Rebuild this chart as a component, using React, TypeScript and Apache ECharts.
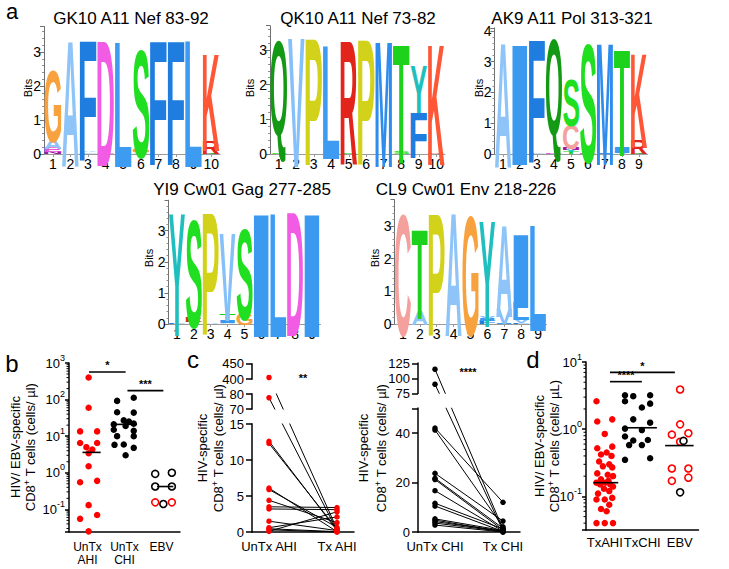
import React, { useEffect, useRef } from "react";
import * as echarts from "echarts";

const FONT = '"Liberation Sans", Arial, Helvetica, sans-serif';
const LOGO_FONT = 'bold 100px "Liberation Sans", Arial, sans-serif';
const RED = "#ff0000";
const BLACK = "#000000";

const LETTER_COLORS: Record<string, string> = {
  A: "#8ec4f8", C: "#f4a19e", D: "#f25ce4", E: "#e257d8", F: "#1f7de0", G: "#f7a23e",
  I: "#3b9af0", K: "#ff5636", L: "#3d9cf2", M: "#2d8cee", N: "#a0169f", P: "#d3d21a",
  Q: "#139913", R: "#e2241a", S: "#20df20", T: "#1dd21d", V: "#85c0fa", Y: "#1fbfbf",
};

type Stack = [string, number][];

// ---------- sequence logo data (bits, stacked bottom -> top) ----------
const logo1Title = "GK10 A11 Nef 83-92";
const logo1Stacks: Stack[] = [
  [["N", 0.07], ["E", 0.13], ["A", 0.32], ["G", 2.12]],
  [["A", 3.7]],
  [["L", 0.05], ["A", 0.05], ["F", 3.55]],
  [["E", 0.03], ["D", 3.67]],
  [["L", 3.65]],
  [["A", 0.04], ["G", 0.14], ["S", 3.2]],
  [["F", 3.68]],
  [["F", 3.68]],
  [["L", 3.68]],
  [["Q", 0.04], ["R", 0.36], ["K", 2.88]],
];
const logo2Title = "QK10 A11 Nef 73-82";
const logo2Stacks: Stack[] = [
  [["S", 0.04], ["Q", 3.52]],
  [["V", 3.68]],
  [["P", 3.68]],
  [["I", 0.05], ["V", 0.13], ["L", 3.25]],
  [["S", 0.05], ["R", 3.55]],
  [["P", 3.62]],
  [["M", 3.62]],
  [["S", 0.06], ["T", 3.46]],
  [["F", 1.3], ["Y", 1.35]],
  [["R", 0.04], ["K", 3.5]],
];
const logo3Title = "AK9 A11 Pol 313-321";
const logo3Stacks: Stack[] = [
  [["A", 4.05]],
  [["V", 0.05], ["I", 3.92]],
  [["L", 0.05], ["F", 4.0]],
  [["E", 0.05], ["Q", 4.0]],
  [["T", 0.06], ["Y", 0.08], ["N", 0.08], ["C", 0.8], ["S", 1.55]],
  [["E", 0.05], ["S", 3.9]],
  [["I", 0.05], ["M", 3.98]],
  [["V", 0.06], ["I", 0.22], ["T", 3.48]],
  [["Q", 0.05], ["R", 0.45], ["K", 3.1]],
];
const logo4Title = "YI9 Cw01 Gag 277-285";
const logo4Stacks: Stack[] = [
  [["F", 0.04], ["Y", 3.93]],
  [["T", 0.06], ["R", 0.14], ["S", 3.5]],
  [["A", 0.03], ["P", 3.93]],
  [["A", 0.05], ["I", 0.1], ["T", 0.22], ["V", 2.8]],
  [["G", 0.38], ["S", 2.95]],
  [["I", 3.96]],
  [["L", 3.96]],
  [["D", 3.96]],
  [["I", 3.96]],
];
const logo5Title = "CL9 Cw01 Env 218-226";
const logo5Stacks: Stack[] = [
  [["C", 3.75]],
  [["A", 0.42], ["T", 2.75]],
  [["P", 3.75]],
  [["A", 3.78]],
  [["G", 3.72]],
  [["F", 0.1], ["I", 0.06], ["V", 0.08], ["Y", 3.2]],
  [["I", 0.04], ["V", 0.45], ["A", 2.8]],
  [["F", 0.05], ["V", 0.12], ["L", 0.55], ["I", 2.28]],
  [["V", 0.06], ["I", 0.08], ["L", 3.22]],
];

// ---------- panel b ----------
const bCategories = ["UnTx\nAHI", "UnTx\nCHI", "EBV"];
const bAhiVals = [400, 60, 13.5, 13.5, 6.5, 6.5, 5, 4.3, 3.4, 1.5, 0.55, 0.6, 0.13, 0.055, 0.07, 0.025];
const bAhiJit = [0.03, 0.03, -0.2, 0.26, -0.2, 0.26, -0.03, 0.13, 0.03, 0.03, -0.2, 0.26, 0.03, -0.2, 0.26, 0.03];
const bChiVals = [112, 92, 45, 44, 27, 25, 22, 21, 19, 15, 14, 10, 10, 5.8, 5.9, 4.8, 3.0];
const bChiJit = [0.25, -0.2, -0.2, 0.25, -0.02, 0.12, 0.25, -0.29, 0.03, -0.29, 0.25, -0.2, 0.25, -0.27, -0.02, 0.25, 0.03];
const bEbvRedVals = [0.155, 0.155];
const bEbvRedJit = [-0.17, 0.28];
const bEbvBlackVals = [0.93, 1.0, 0.42, 0.42, 0.14];
const bEbvBlackJit = [-0.17, 0.28, -0.17, 0.28, 0.05];
const bMedians = [[1.11, 3.6, 0.245], [2.03, 21, 0.31], [3.1, 0.42, 0.22]]; // [center, median, half width]
const bSig = [[1.04, 2.03, 569], [2.08, 3.05, 176]];
const bSigText = ["*", "***"];

// ---------- panel c ----------
const cLeftCategories = ["UnTx AHI", "Tx AHI"];
const cAhiUntx = [405, 77.5, 12.6, 12.3, 6.1, 5.9, 4.4, 3.5, 3.2, 1.5, 0.6, 0.45, 0.3, 0.1];
const cAhiTx = [0.4, 0.2, 0.2, 0.4, 0.05, 0.65, 1.3, 3.4, 3.1, 0.2, 2.1, 0.05, 0, 2.8];
const cLeftTicks = [0, 5, 10, 15, 70, 80, 400, 450];
const cLeftSegments = [[0, 15], [70, 80], [400, 450]];
const cRightCategories = ["UnTx CHI", "Tx CHI"];
const cChiUntx = [115, 90, 42, 41.2, 23.7, 21.7, 21.2, 16.7, 11.6, 10.5, 5.3, 4.8, 4.2, 3.6, 2.8];
const cChiTx = [1.2, 0.5, 12, 2.1, 4.4, 1.5, 0.8, 0.3, 1.2, 0.2, 0.6, 0.1, 0.4, 0.2, 0];
const cRightTicks = [0, 20, 40, 50, 75, 100, 125];
const cRightLabelTicks = [0, 20, 40, 75, 100, 125];
const cRightSegments = [[0, 50], [75, 125]];

// ---------- panel d ----------
const dCategories = ["TxAHI", "TxCHI", "EBV"];
const dAhiVals = [2.6, 1.3, 1.4, 0.85, 0.52, 0.55, 0.45, 0.42, 0.4, 0.33, 0.3, 0.28, 0.27, 0.22, 0.21, 0.2, 0.18, 0.17, 0.16, 0.16, 0.15, 0.15, 0.14, 0.13, 0.12, 0.11, 0.095, 0.09, 0.09, 0.075, 0.065, 0.06, 0.04, 0.04, 0.04, 0.03];
const dAhiJit = [-0.22, -0.2, 0.2, 0, -0.2, 0.2, 0.05, -0.1, 0.18, -0.15, 0.12, -0.05, 0.2, -0.2, 0.08, 0.22, -0.1, 0.1, -0.22, 0.02, 0.15, -0.12, 0.22, -0.02, 0.12, -0.18, 0.2, -0.22, 0.0, 0.12, -0.1, 0.05, -0.22, 0.0, 0.22, -0.05];
const dChiVals = [3.2, 3.1, 3.2, 2.6, 2.1, 2.4, 1.4, 1.25, 1.02, 0.97, 0.78, 0.68, 0.69, 0.58, 0.58, 0.35, 0.37];
const dChiJit = [-0.46, -0.24, 0.21, -0.46, -0.01, 0.21, -0.24, 0.21, -0.46, -0.01, -0.46, -0.24, 0.15, -0.35, -0.01, -0.46, 0.21];
const dEbvRedVals = [3.9, 1.18, 0.83, 0.87, 0.65, 0.26, 0.26, 0.17, 0.19];
const dEbvRedJit = [0.01, 0.01, -0.21, 0.23, 0.01, -0.21, 0.23, -0.21, 0.23];
const dEbvBlackVals = [0.67, 0.115];
const dEbvBlackJit = [0.1, 0.01];
const dMedians = [[1.03, 0.16, 0.33], [1.97, 1.05, 0.42], [2.99, 0.57, 0.38]];
const dSig = [[1.14, 1.99, 5.1], [1.14, 2.87, 7.0]];
const dSigText = ["****", "*"];

// ---------- layout ----------
const LOGO_LAYOUT = [
  { left: 44, top: 26.5, width: 176, height: 127.5, yMax: 3.75, tx: 131, ty: 18, bx: 28, by: 88 },
  { left: 270, top: 25.7, width: 175, height: 128.3, yMax: 3.7, tx: 358, ty: 18, bx: 250, by: 88 },
  { left: 494.5, top: 27.9, width: 153, height: 126.1, yMax: 4.1, tx: 572, ty: 18, bx: 479, by: 88 },
  { left: 168.5, top: 200.2, width: 152, height: 123.8, yMax: 3.98, tx: 242, ty: 189, bx: 149, by: 258 },
  { left: 394.5, top: 199.7, width: 152, height: 124.3, yMax: 3.8, tx: 466, ty: 189, bx: 375, by: 258 },
];

const tA = (v: number) => (v <= 15 ? v : v <= 80 ? 17.0833 + (v - 70) * 0.20833 : 21.25 + (v - 400) * 0.041667);
const tC = (v: number) => (v <= 50 ? v : 56.06 + (v - 75) * 0.2424);

const measureCache: Record<string, { l: number; r: number; a: number; d: number }> = {};
function measure(ch: string) {
  if (!measureCache[ch]) {
    const ctx = document.createElement("canvas").getContext("2d")!;
    ctx.font = LOGO_FONT;
    ctx.textAlign = "center";
    ctx.textBaseline = "middle";
    const m = ctx.measureText(ch);
    measureCache[ch] = {
      l: m.actualBoundingBoxLeft,
      r: m.actualBoundingBoxRight,
      a: m.actualBoundingBoxAscent,
      d: m.actualBoundingBoxDescent,
    };
  }
  return measureCache[ch];
}

function buildLogo(stacks: Stack[]) {
  const data: number[][] = [];
  const letters: string[] = [];
  stacks.forEach((st, i) => {
    let y = 0;
    st.forEach(([ch, h]) => {
      data.push([i, y, y + h]);
      letters.push(ch);
      y += h;
    });
  });
  return { data, letters };
}

function logMinor(min: number, max: number) {
  const out: number[][] = [];
  for (let e = Math.floor(Math.log10(min)); e < Math.log10(max); e++) {
    for (let k = 2; k <= 9; k++) {
      const v = k * Math.pow(10, e);
      if (v > min && v < max) out.push([1, v]);
    }
  }
  return out;
}

const logFormatter = (v: number) => {
  const e = Math.log10(v);
  const r = Math.round(e);
  if (Math.abs(e - r) > 1e-6) return "";
  return `{b|10}{s|${r}}`;
};
const logRich = {
  b: { fontSize: 13, lineHeight: 20, color: BLACK, fontFamily: FONT },
  s: { fontSize: 9, lineHeight: 10, verticalAlign: "top", color: BLACK, fontFamily: FONT },
};

function catFormatter(labels: string[]) {
  return (v: number) => {
    const r = Math.round(v);
    if (Math.abs(v - r) > 1e-6) return "";
    return labels[r - 1] || "";
  };
}

const axisBlack = { lineStyle: { color: BLACK, width: 1.5 } };

export default function App() {
  const ref = useRef<HTMLDivElement>(null);
  useEffect(() => {
    if (!ref.current) return;
    const chart = echarts.init(ref.current, null, { renderer: "svg" });

    const grids: any[] = [];
    const xAxes: any[] = [];
    const yAxes: any[] = [];
    const series: any[] = [];
    const graphics: any[] = [];

    const logoStacks = [logo1Stacks, logo2Stacks, logo3Stacks, logo4Stacks, logo5Stacks];
    const logoTitles = [logo1Title, logo2Title, logo3Title, logo4Title, logo5Title];

    logoStacks.forEach((stacks, gi) => {
      const L = LOGO_LAYOUT[gi];
      grids.push({ left: L.left, top: L.top, width: L.width, height: L.height });
      xAxes.push({
        type: "category", gridIndex: gi,
        data: stacks.map((_, i) => String(i + 1)),
        axisLine: { lineStyle: { color: "#9a9a9a", width: 1 } },
        axisTick: { show: true, alignWithLabel: true, interval: 0, length: 3, lineStyle: { color: "#9a9a9a" } },
        axisLabel: { fontSize: 14, color: BLACK, margin: 3, interval: 0, fontFamily: FONT },
      });
      yAxes.push({
        type: "value", gridIndex: gi, min: 0, max: L.yMax, interval: 1,
        axisLine: { show: true, lineStyle: { color: "#707070", width: 1 } },
        axisTick: { show: true, length: 4, lineStyle: { color: "#707070" } },
        minorTick: { show: true, splitNumber: 5, length: 2, lineStyle: { color: "#909090" } },
        axisLabel: {
          fontSize: 14, color: BLACK, margin: 3, fontFamily: FONT,
          formatter: (v: number) => (Math.abs(v - Math.round(v)) < 1e-6 ? String(Math.round(v)) : ""),
        },
        splitLine: { show: false },
      });
      const { data, letters } = buildLogo(stacks);
      series.push({
        type: "custom", xAxisIndex: gi, yAxisIndex: gi, clip: false, silent: true,
        encode: { x: 0, y: [1, 2] },
        data,
        renderItem: (params: any, api: any) => {
          const i = params.dataIndex;
          const x = api.value(0), y0 = api.value(1), y1 = api.value(2);
          const p0 = api.coord([x, y0]);
          const p1 = api.coord([x, y1]);
          const bw = api.size([1, 0])[0] * 0.95;
          const h = p0[1] - p1[1];
          if (h < 0.4) return null;
          const ch = letters[i];
          const m = measure(ch);
          const sx = bw / (m.l + m.r);
          const sy = h / (m.a + m.d);
          return {
            type: "text",
            x: p0[0] - bw / 2 + m.l * sx,
            y: p1[1] + m.a * sy,
            scaleX: sx, scaleY: sy,
            style: { text: ch, font: LOGO_FONT, fill: LETTER_COLORS[ch] || "#888", align: "center", verticalAlign: "middle" },
          };
        },
      });
      graphics.push({
        type: "text", x: L.tx, y: L.ty,
        style: { text: logoTitles[gi], font: `17px ${FONT}`, fill: BLACK, align: "center", verticalAlign: "middle" },
      });
      graphics.push({
        type: "text", x: L.bx, y: L.by, rotation: Math.PI / 2,
        style: { text: "Bits", font: `11px ${FONT}`, fill: BLACK, align: "center", verticalAlign: "middle" },
      });
    });

    // ---------- panel b (index 5) ----------
    grids.push({ left: 69, top: 363, width: 111, height: 169 });
    xAxes.push({
      type: "value", gridIndex: 5, min: 0.5, max: 3.5, interval: 0.5,
      axisLine: axisBlack, axisTick: { show: false }, splitLine: { show: false },
      axisLabel: { fontSize: 12, color: BLACK, margin: 8, lineHeight: 13, fontFamily: FONT, formatter: catFormatter(bCategories) },
    });
    yAxes.push({
      type: "log", gridIndex: 5, logBase: 10, min: 0.024, max: 1000, splitNumber: 4,
      axisLine: { show: true, ...axisBlack }, axisTick: { show: true, length: 4, lineStyle: { color: BLACK, width: 1.5 } },
      splitLine: { show: false },
      axisLabel: { margin: 4, formatter: logFormatter, rich: logRich },
    });
    // ---------- panel c left (6) ----------
    const cLeftMax = tA(450);
    grids.push({ left: 252, top: 532 - cLeftMax * 7.2, width: 102, height: cLeftMax * 7.2 });
    xAxes.push({
      type: "value", gridIndex: 6, min: 0.75, max: 2.25, interval: 0.25,
      axisLine: axisBlack, axisTick: { show: false }, splitLine: { show: false },
      axisLabel: { fontSize: 13, color: BLACK, margin: 8, fontFamily: FONT, formatter: catFormatter(cLeftCategories) },
    });
    const cLeftTickPos = cLeftTicks.map(tA);
    yAxes.push({
      type: "value", gridIndex: 6, min: 0, max: cLeftMax,
      axisLine: { show: false }, splitLine: { show: false },
      axisTick: { show: true, length: 6, customValues: cLeftTickPos, lineStyle: { color: BLACK, width: 1.5 } },
      axisLabel: {
        fontSize: 13, color: BLACK, margin: 8, fontFamily: FONT, customValues: cLeftTickPos,
        showMaxLabel: true, showMinLabel: true,
        formatter: (v: number) => {
          const j = cLeftTickPos.findIndex((p) => Math.abs(p - v) < 1e-4);
          return j >= 0 ? String(cLeftTicks[j]) : "";
        },
      },
    });
    // ---------- panel c right (7) ----------
    const cRightMax = tC(125);
    grids.push({ left: 418, top: 532 - cRightMax * 2.475, width: 102, height: cRightMax * 2.475 });
    xAxes.push({
      type: "value", gridIndex: 7, min: 0.75, max: 2.25, interval: 0.25,
      axisLine: axisBlack, axisTick: { show: false }, splitLine: { show: false },
      axisLabel: { fontSize: 13, color: BLACK, margin: 8, fontFamily: FONT, formatter: catFormatter(cRightCategories) },
    });
    const cRightTickPos = cRightTicks.map(tC);
    const cRightLabelPos = cRightLabelTicks.map(tC);
    yAxes.push({
      type: "value", gridIndex: 7, min: 0, max: cRightMax,
      axisLine: { show: false }, splitLine: { show: false },
      axisTick: { show: true, length: 6, customValues: cRightTickPos, lineStyle: { color: BLACK, width: 1.5 } },
      axisLabel: {
        fontSize: 13, color: BLACK, margin: 8, fontFamily: FONT, customValues: cRightLabelPos,
        showMaxLabel: true, showMinLabel: true,
        formatter: (v: number) => {
          const j = cRightLabelPos.findIndex((p) => Math.abs(p - v) < 1e-4);
          return j >= 0 ? String(cRightLabelTicks[j]) : "";
        },
      },
    });
    // ---------- panel d (8) ----------
    grids.push({ left: 586, top: 362, width: 112.5, height: 168 });
    xAxes.push({
      type: "value", gridIndex: 8, min: 0.5, max: 3.5, interval: 0.5,
      axisLine: axisBlack, axisTick: { show: false }, splitLine: { show: false },
      axisLabel: { fontSize: 13, color: BLACK, margin: 6, fontFamily: FONT, formatter: catFormatter(dCategories) },
    });
    yAxes.push({
      type: "log", gridIndex: 8, logBase: 10, min: 0.0316, max: 10, splitNumber: 2,
      axisLine: { show: true, ...axisBlack }, axisTick: { show: true, length: 4, lineStyle: { color: BLACK, width: 1.5 } },
      splitLine: { show: false },
      axisLabel: { margin: 4, formatter: logFormatter, rich: logRich },
    });

    const dot = (idx: number, data: number[][], color: string, size: number) => ({
      type: "scatter", xAxisIndex: idx, yAxisIndex: idx, data, symbolSize: size, silent: true, z: 5,
      itemStyle: { color, opacity: 1 },
    });
    const ring = (idx: number, data: number[][], color: string) => ({
      type: "scatter", xAxisIndex: idx, yAxisIndex: idx, data, symbolSize: 7, silent: true, z: 5,
      itemStyle: { color: "#ffffff", borderColor: color, borderWidth: 1.6, opacity: 1 },
    });
    const medians = (idx: number, data: number[][]) => ({
      type: "custom", xAxisIndex: idx, yAxisIndex: idx, silent: true, clip: false, z: 6,
      encode: { x: 0, y: 1 }, data,
      renderItem: (_p: any, api: any) => {
        const c = api.value(0), v = api.value(1), h = api.value(2);
        const a = api.coord([c - h, v]);
        const b = api.coord([c + h, v]);
        return { type: "line", shape: { x1: a[0], y1: a[1], x2: b[0], y2: b[1] }, style: { stroke: BLACK, lineWidth: 1.6 } };
      },
    });
    const sig = (idx: number, data: number[][], texts: string[]) => ({
      type: "custom", xAxisIndex: idx, yAxisIndex: idx, silent: true, clip: false, z: 6,
      encode: { x: [0, 1], y: 2 }, data,
      renderItem: (p: any, api: any) => {
        const a = api.coord([api.value(0), api.value(2)]);
        const b = api.coord([api.value(1), api.value(2)]);
        return {
          type: "group",
          children: [
            { type: "line", shape: { x1: a[0], y1: a[1], x2: b[0], y2: b[1] }, style: { stroke: BLACK, lineWidth: 1.6 } },
            {
              type: "text", x: (a[0] + b[0]) / 2, y: a[1] - 1,
              style: { text: texts[p.dataIndex], font: `bold 11px ${FONT}`, fill: BLACK, align: "center", verticalAlign: "bottom" },
            },
          ],
        };
      },
    });
    const minorTicks = (idx: number, min: number, max: number) => ({
      type: "custom", xAxisIndex: idx, yAxisIndex: idx, silent: true, clip: false, z: 4,
      encode: { x: 0, y: 1 }, data: logMinor(min, max),
      renderItem: (p: any, api: any) => {
        const y = api.coord([1, api.value(1)])[1];
        const x0 = p.coordSys.x;
        return { type: "line", shape: { x1: x0 - 2.5, y1: y, x2: x0, y2: y }, style: { stroke: BLACK, lineWidth: 1 } };
      },
    });

    // b series
    series.push(dot(5, bAhiVals.map((v, i) => [1 + bAhiJit[i], v]), RED, 6.5));
    series.push(dot(5, bChiVals.map((v, i) => [2 + bChiJit[i], v]), BLACK, 6.5));
    series.push(ring(5, bEbvBlackVals.map((v, i) => [3 + bEbvBlackJit[i], v]), BLACK));
    series.push(ring(5, bEbvRedVals.map((v, i) => [3 + bEbvRedJit[i], v]), RED));
    series.push(medians(5, bMedians));
    series.push(sig(5, bSig, bSigText));
    series.push(minorTicks(5, 0.024, 1000));

    // c series
    const pairSeries = (idx: number, untx: number[], tx: number[], tf: (v: number) => number) => ({
      type: "custom", xAxisIndex: idx, yAxisIndex: idx, silent: true, clip: false, z: 2,
      encode: { x: [0, 2], y: [1, 3] },
      data: untx.map((u, i) => [1, tf(u), 2, tf(tx[i])]),
      renderItem: (_p: any, api: any) => {
        const a = api.coord([api.value(0), api.value(1)]);
        const b = api.coord([api.value(2), api.value(3)]);
        return { type: "line", shape: { x1: a[0], y1: a[1], x2: b[0], y2: b[1] }, style: { stroke: BLACK, lineWidth: 1 } };
      },
    });
    const gapMasks = (idx: number, segs: number[][], tf: (v: number) => number) => {
      const gaps: number[][] = [];
      for (let i = 0; i < segs.length - 1; i++) gaps.push([1, tf(segs[i][1]), tf(segs[i + 1][0])]);
      return {
        type: "custom", xAxisIndex: idx, yAxisIndex: idx, silent: true, clip: false, z: 3,
        encode: { x: 0, y: [1, 2] }, data: gaps,
        renderItem: (p: any, api: any) => {
          const y0 = api.coord([1, api.value(1)])[1];
          const y1 = api.coord([1, api.value(2)])[1];
          const cs = p.coordSys;
          return { type: "rect", shape: { x: cs.x + 1.5, y: y1 + 0.5, width: cs.width, height: y0 - y1 - 1 }, style: { fill: "#ffffff" } };
        },
      };
    };
    const axisSegments = (idx: number, segs: number[][], tf: (v: number) => number) => ({
      type: "custom", xAxisIndex: idx, yAxisIndex: idx, silent: true, clip: false, z: 4,
      encode: { x: 0, y: [1, 2] }, data: segs.map((s) => [1, tf(s[0]), tf(s[1])]),
      renderItem: (p: any, api: any) => {
        const y0 = api.coord([1, api.value(1)])[1];
        const y1 = api.coord([1, api.value(2)])[1];
        const x = p.coordSys.x;
        return { type: "line", shape: { x1: x, y1: y0 + 0.75, x2: x, y2: y1 - 0.75 }, style: { stroke: BLACK, lineWidth: 1.5 } };
      },
    });
    series.push(pairSeries(6, cAhiUntx, cAhiTx, tA));
    series.push(gapMasks(6, cLeftSegments, tA));
    series.push(axisSegments(6, cLeftSegments, tA));
    series.push(dot(6, cAhiUntx.map((v) => [1, tA(v)]), RED, 5.5));
    series.push(dot(6, cAhiTx.map((v) => [2, tA(v)]), RED, 5.5));

    series.push(pairSeries(7, cChiUntx, cChiTx, tC));
    series.push(gapMasks(7, cRightSegments, tC));
    series.push(axisSegments(7, cRightSegments, tC));
    series.push(dot(7, cChiUntx.map((v) => [1, tC(v)]), BLACK, 5.5));
    series.push(dot(7, cChiTx.map((v) => [2, tC(v)]), BLACK, 5.5));

    // d series
    series.push(dot(8, dAhiVals.map((v, i) => [1 + dAhiJit[i], v]), RED, 6.5));
    series.push(dot(8, dChiVals.map((v, i) => [2 + dChiJit[i], v]), BLACK, 6.5));
    series.push(ring(8, dEbvRedVals.map((v, i) => [3 + dEbvRedJit[i], v]), RED));
    series.push(ring(8, dEbvBlackVals.map((v, i) => [3 + dEbvBlackJit[i], v]), BLACK));
    series.push(medians(8, dMedians));
    series.push(sig(8, dSig, dSigText));
    series.push(minorTicks(8, 0.0316, 10));

    // panel letters
    const panelLetter = (t: string, x: number, y: number, size: number) => ({
      type: "text", x, y,
      style: { text: t, font: `${size}px ${FONT}`, fill: BLACK, align: "center", verticalAlign: "middle" },
    });
    graphics.push(panelLetter("a", 12, 11, 22));
    graphics.push(panelLetter("b", 12, 363, 24));
    graphics.push(panelLetter("c", 193, 359, 24));
    graphics.push(panelLetter("d", 533, 359, 24));

    const richTitle = {
      n: { fontSize: 13, fontFamily: FONT, color: BLACK, lineHeight: 16 },
      s: { fontSize: 9, fontFamily: FONT, color: BLACK, lineHeight: 8, verticalAlign: "top" },
    };
    const yTitle = (text: string, x: number, y: number) => ({
      type: "text", x, y, rotation: Math.PI / 2,
      style: { text, rich: richTitle, align: "center", verticalAlign: "middle", font: `13px ${FONT}` },
    });
    const cd8 = (unit: string) => `{n|CD8}{s|+}{n| T cells (cells/ ${unit})}`;
    graphics.push(yTitle("{n|HIV/ EBV-specific}", 15, 447));
    graphics.push(yTitle(cd8("µl"), 30, 447));
    graphics.push(yTitle("{n|HIV-specific}", 202, 448));
    graphics.push(yTitle(cd8("µl"), 218, 448));
    graphics.push(yTitle("{n|HIV-specific}", 363, 448));
    graphics.push(yTitle(cd8("µl"), 381, 448));
    graphics.push(yTitle("{n|HIV/ EBV-specific}", 539, 446));
    graphics.push(yTitle(cd8("µL"), 554, 446));

    graphics.push({ type: "text", x: 303, y: 378, style: { text: "**", font: `bold 11px ${FONT}`, fill: BLACK, align: "center", verticalAlign: "middle" } });
    graphics.push({ type: "text", x: 468, y: 372, style: { text: "****", font: `bold 11px ${FONT}`, fill: BLACK, align: "center", verticalAlign: "middle" } });

    chart.setOption({
      animation: false,
      textStyle: { fontFamily: FONT },
      grid: grids,
      xAxis: xAxes,
      yAxis: yAxes,
      series,
      graphic: { elements: graphics },
    });
    return () => chart.dispose();
  }, []);

  return <div ref={ref} style={{ position: "absolute", left: 0, top: 0, width: 729, height: 569, background: "#fff" }} />;
}
